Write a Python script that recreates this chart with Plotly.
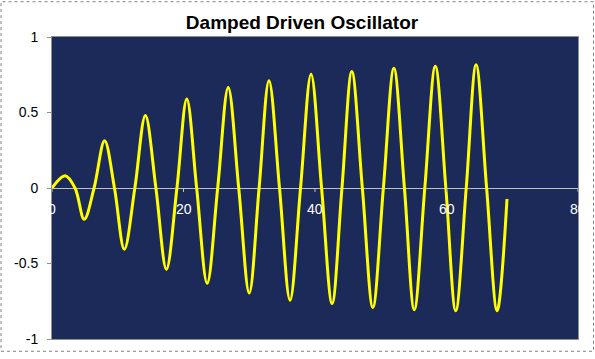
import plotly.graph_objects as go

# Key points of the curve (extrema and zero crossings)
t_vals = [0, 2.0, 3.5, 4.9, 6.4, 8.0, 9.5, 11.0, 12.6, 14.2, 15.8, 17.4, 19.0,
          20.5, 22.0, 23.6, 25.2, 26.8, 28.4, 30.0, 31.5, 33.0, 34.6, 36.2,
          37.8, 39.4, 41.0, 42.6, 44.1, 45.6, 47.2, 48.8, 50.4, 52.0, 53.6,
          55.1, 56.7, 58.3, 59.9, 61.4, 63.0, 64.5, 66.1, 67.7, 69.2]
x_vals = [0, 0.081, 0, -0.207, 0, 0.313, 0, -0.406, 0, 0.48, 0, -0.538, 0,
          0.59, 0, -0.631, 0, 0.666, 0, -0.696, 0, 0.711, 0, -0.743,
          0, 0.754, 0, -0.765, 0, 0.771, 0, -0.791, 0, 0.793, 0,
          -0.806, 0, 0.806, 0, -0.813, 0, 0.817, 0, -0.813, -0.073]

x_ticks = [0, 20, 40, 60, 80]
x_tick_labels = ["0", "20", "40", "60", "80"]
y_ticks = [-1, -0.5, 0, 0.5, 1]
y_tick_labels = ["-1", "-0.5", "0", "0.5", "1"]

W, H = 595, 359
L, R, T, B = 52, 17, 37, 14
PW, PH = W - L - R, H - T - B
FONT = "Liberation Sans, Arial, sans-serif"

fig = go.Figure()
fig.add_trace(go.Scatter(
    x=t_vals, y=x_vals, mode="lines",
    line=dict(color="#ffff00", width=3, shape="spline", smoothing=1),
    hoverinfo="skip", showlegend=False))

annotations = []
shapes = []
for xv, lab in zip(x_ticks, x_tick_labels):
    annotations.append(dict(x=xv, y=0, xref="x", yref="y", text=lab,
                            showarrow=False, yanchor="top", xanchor="center",
                            yshift=-11,
                            font=dict(family=FONT, size=14, color="white")))
    shapes.append(dict(type="line", xref="x", yref="y", x0=xv, x1=xv,
                       ysizemode="pixel", yanchor=0, y0=0, y1=-4,
                       line=dict(color="#c0c0c0", width=1), layer="above"))

# outer dotted chart border
shapes.append(dict(type="rect", xref="paper", yref="paper",
                   x0=(1 - L) / PW, x1=(W - 1.5 - L) / PW,
                   y0=(H - B - (H - 1.5)) / PH, y1=(H - B - 1) / PH,
                   line=dict(color="#808080", width=1, dash="dot"),
                   layer="above"))

fig.update_layout(
    width=W, height=H,
    margin=dict(l=L, r=R, t=T, b=B),
    paper_bgcolor="white",
    plot_bgcolor="#1c2a5a",
    title=dict(text="<b>Damped Driven Oscillator</b>", x=302 / W, xref="container",
               xanchor="center", y=1 - 22.7 / H, yref="container", yanchor="middle",
               font=dict(family=FONT, size=19, color="black")),
    xaxis=dict(range=[0, 80], showticklabels=False, ticks="", showgrid=False,
               zeroline=False, showline=True, mirror=True, linecolor="#909090",
               linewidth=1),
    yaxis=dict(range=[-1, 1], tickvals=y_ticks, ticktext=y_tick_labels,
               ticks="outside", ticklen=4, tickcolor="#909090",
               ticklabelstandoff=6,
               showgrid=False, zeroline=True, zerolinecolor="#c0c0c0",
               zerolinewidth=1, showline=True, mirror=True,
               linecolor="#909090", linewidth=1,
               tickfont=dict(family=FONT, size=14, color="black")),
    annotations=annotations,
    shapes=shapes,
)

css_js = (
    "document.documentElement.style.cssText='margin:0;padding:0;';"
    "document.body.style.cssText='margin:0;padding:0;overflow:hidden;';"
)

fig.write_html(
    "out.html",
    config={"displayModeBar": False, "staticPlot": True},
    post_script=css_js,
)
